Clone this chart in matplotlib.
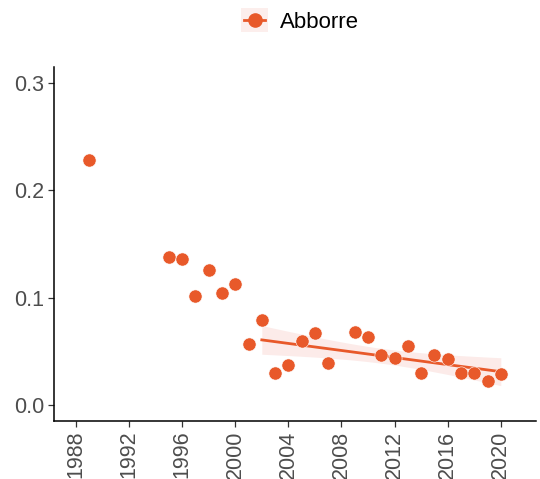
import numpy as np
import matplotlib.pyplot as plt
from matplotlib.lines import Line2D
from matplotlib.patches import Rectangle
from matplotlib.legend_handler import HandlerBase

plt.rcParams['font.family'] = ['Liberation Sans', 'DejaVu Sans']

years = [1989, 1995, 1996, 1997, 1998, 1999, 2000, 2001, 2002, 2003, 2004,
         2005, 2006, 2007, 2009, 2010, 2011, 2012, 2013, 2014, 2015, 2016,
         2017, 2018, 2019, 2020]
values = [0.228, 0.138, 0.136, 0.102, 0.126, 0.104, 0.113, 0.057, 0.079,
          0.030, 0.037, 0.060, 0.067, 0.039, 0.068, 0.063, 0.047, 0.044,
          0.055, 0.030, 0.047, 0.043, 0.030, 0.030, 0.022, 0.029]
species = 'Abborre'
trendStart = 2002
col = '#E8592A'
fillCol = '#FBE3E0'

x = np.array(years, dtype=float)
y = np.array(values)
# Linear trend with 95% band -------------------------------------------------
m = x >= trendStart
xs, ys = x[m], y[m]
n = len(xs)
b, a = np.polyfit(xs, ys, 1)
res = ys - (a + b * xs)
s = np.sqrt(np.sum(res ** 2) / (n - 2))
xg = np.linspace(xs.min(), xs.max(), 80)
se = s * np.sqrt(1 / n + (xg - xs.mean()) ** 2 / np.sum((xs - xs.mean()) ** 2))
tval = 2.12
yg = a + b * xg

fig = plt.figure(figsize=(5.4, 4.79), dpi=100)
ax = fig.add_axes([0.1, 0.121, 0.8926, 0.739])
ax.fill_between(xg, yg - tval * se, yg + tval * se, color=fillCol, alpha=0.7, lw=0, zorder=1)
ax.plot(xg, yg, color=col, lw=2.0, zorder=2)
ax.scatter(x, y, s=90, color=col, edgecolor='white', linewidth=0.4, zorder=3)

ax.set_xlim(1986.35, 2022.65)
ax.set_ylim(-0.015, 0.315)
ax.set_xticks(range(1988, 2021, 4))
ax.set_yticks([0.0, 0.1, 0.2, 0.3])
ax.set_yticklabels(['0.0', '0.1', '0.2', '0.3'])
ax.tick_params(axis='both', labelsize=15.5, labelcolor='#4D4D4D', color='#333333',
               length=4, width=0.9, pad=3)
ax.tick_params(axis='x', labelrotation=90)
for sp in ['top', 'right']:
    ax.spines[sp].set_visible(False)
for sp in ['left', 'bottom']:
    ax.spines[sp].set_linewidth(1.1)
    ax.spines[sp].set_color('black')


class KeyHandler(HandlerBase):
    def create_artists(self, legend, orig, xd, yd, w, h, fs, trans):
        bg = Rectangle((-xd, -yd - 3), w, h + 6, facecolor=fillCol, alpha=0.6,
                       edgecolor='none', transform=trans)
        ln = Line2D([-xd + 2, -xd + w - 2], [h / 2 - yd] * 2, color=col, lw=2.0,
                    transform=trans)
        mk = Line2D([-xd + w / 2], [h / 2 - yd], marker='o', markersize=9.5,
                    color=col, lw=0, transform=trans)
        return [bg, ln, mk]


handle = Line2D([], [], color=col)
fig.legend([handle], [species], handler_map={Line2D: KeyHandler()},
           loc='center', bbox_to_anchor=(0.556, 0.954), frameon=False,
           fontsize=16, handlelength=1.2, handletextpad=0.55)

fig.savefig('out.png', dpi=100)
